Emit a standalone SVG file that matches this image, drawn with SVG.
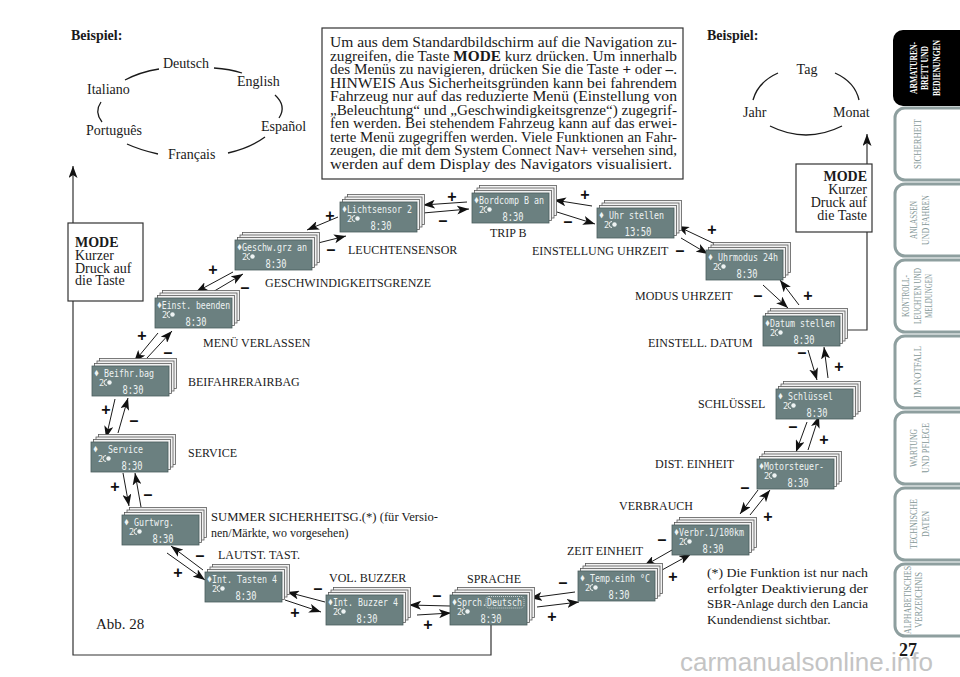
<svg xmlns="http://www.w3.org/2000/svg" xmlns:xlink="http://www.w3.org/1999/xlink" width="960" height="677" viewBox="0 0 960 677">
<style>
.serif{font-family:"Liberation Serif","Times New Roman",serif;fill:#1a1a1a}
.lbl{font-family:"Liberation Serif","Times New Roman",serif;font-size:12px;fill:#1a1a1a}
.lang{font-family:"Liberation Serif","Times New Roman",serif;font-size:14px;fill:#1a1a1a}
.para{font-family:"Liberation Serif","Times New Roman",serif;font-size:14.5px;fill:#1a1a1a}
.pm{font-family:"Liberation Sans",Arial,sans-serif;font-size:16px;font-weight:bold;fill:#111;text-anchor:middle}
.bk{fill:#f2f2f2;stroke:#5a5a5a;stroke-width:0.8}
.lcd{fill:#6b8080;stroke:#4a5c5c;stroke-width:0.8}
.l1{font-family:"DejaVu Sans Mono","Liberation Mono",monospace;font-size:10.5px;fill:#eef3f3;white-space:pre}
.l2{font-family:"DejaVu Sans Mono","Liberation Mono",monospace;font-size:8.5px;fill:#eef3f3}
.l3{font-family:"DejaVu Sans Mono","Liberation Mono",monospace;font-size:12px;fill:#eef3f3;text-anchor:middle}
.cn{fill:none;stroke:#1a1a1a;stroke-width:1;marker-end:url(#ah)}
.arc{fill:none;stroke:#1a1a1a;stroke-width:1.3}
.frame{fill:none;stroke:#333;stroke-width:1.2}
.box{fill:#fff;stroke:#333;stroke-width:1.2}
.tab{fill:#fff;stroke:#8e9f9f;stroke-width:3}
.tt{font-family:"Liberation Serif","Times New Roman",serif;font-size:11px;fill:#869898;text-anchor:middle}
.ttw{font-family:"Liberation Serif","Times New Roman",serif;font-size:11px;font-weight:bold;fill:#fff;text-anchor:middle}
</style>
<defs>
<marker id="ah" markerUnits="userSpaceOnUse" markerWidth="13" markerHeight="9" refX="12" refY="4.5" orient="auto">
<path d="M0,0 L12,4.5 L0,9 L3,4.5 z" fill="#111"/>
</marker>
<g id="card">
<rect class="bk" x="7.5" y="-7.5" width="77" height="30"/>
<rect class="bk" x="5" y="-5" width="77" height="30"/>
<rect class="bk" x="2.5" y="-2.5" width="77" height="30"/>
<rect class="lcd" x="0" y="0" width="77" height="30"/>
<path d="M15,13.5 A3,3 0 0 0 15,19.5" fill="none" stroke="#eef3f3" stroke-width="1"/>
<circle cx="17.5" cy="16.5" r="2.2" fill="#eef3f3"/>
</g>
</defs>
<rect x="0" y="0" width="960" height="677" fill="#fff"/>

<!-- Top-left example -->
<g id="example-lang">
<text class="serif" x="71" y="40" font-size="14" font-weight="bold">Beispiel:</text>
<text class="lang" x="163" y="68">Deutsch</text>
<text class="lang" x="237" y="86">English</text>
<text class="lang" x="87" y="94">Italiano</text>
<text class="lang" x="261" y="131">Español</text>
<text class="lang" x="86" y="135">Português</text>
<text class="lang" x="168" y="159">Français</text>
<path class="arc" d="M125,80 Q140,72 159,69"/>
<path class="arc" d="M214,68 Q230,69 242,73"/>
<path class="arc" d="M275,95 Q287,106 279,118"/>
<path class="arc" d="M265,137 Q250,148 228,153"/>
<path class="arc" d="M158,154 Q140,150 127,144"/>
<path class="arc" d="M101,102 Q94,112 102,122"/>
</g>

<!-- Top-right example -->
<g id="example-date">
<text class="serif" x="707" y="40" font-size="14" font-weight="bold">Beispiel:</text>
<text class="lang" x="807" y="74" text-anchor="middle">Tag</text>
<text class="lang" x="743" y="117">Jahr</text>
<text class="lang" x="833" y="117">Monat</text>
<path class="arc" d="M778,73 Q758,82 753,100"/>
<path class="arc" d="M835,73 Q855,82 859,100"/>
<path class="arc" d="M770,126 Q806,144 842,126"/>
</g>

<!-- Info text box -->
<g id="infobox">
<rect class="box" x="322" y="28" width="361" height="151"/>
<text class="para" x="330" y="47" textLength="347" lengthAdjust="spacingAndGlyphs">Um aus dem Standardbildschirm auf die Navigation zu-</text>
<text class="para" x="330" y="60.5" textLength="347" lengthAdjust="spacingAndGlyphs">zugreifen, die Taste <tspan font-weight="bold">MODE</tspan> kurz drücken. Um innerhalb</text>
<text class="para" x="330" y="74" textLength="347" lengthAdjust="spacingAndGlyphs">des Menüs zu navigieren, drücken Sie die Taste <tspan font-weight="bold">+</tspan> oder <tspan font-weight="bold">–</tspan>.</text>
<text class="para" x="330" y="87.5" textLength="347" lengthAdjust="spacingAndGlyphs">HINWEIS Aus Sicherheitsgründen kann bei fahrendem</text>
<text class="para" x="330" y="101" textLength="347" lengthAdjust="spacingAndGlyphs">Fahrzeug nur auf das reduzierte Menü (Einstellung von</text>
<text class="para" x="330" y="114.5" textLength="347" lengthAdjust="spacingAndGlyphs">„Beleuchtung“ und „Geschwindigkeitsgrenze“) zugegrif-</text>
<text class="para" x="330" y="128" textLength="347" lengthAdjust="spacingAndGlyphs">fen werden. Bei stehendem Fahrzeug kann auf das erwei-</text>
<text class="para" x="330" y="141.5" textLength="347" lengthAdjust="spacingAndGlyphs">terte Menü zugegriffen werden. Viele Funktionen an Fahr-</text>
<text class="para" x="330" y="155" textLength="347" lengthAdjust="spacingAndGlyphs">zeugen, die mit dem System Connect Nav+ versehen sind,</text>
<text class="para" x="330" y="168.5" textLength="342" lengthAdjust="spacingAndGlyphs">werden auf dem Display des Navigators visualisiert.</text>
</g>

<!-- Connectors -->
<g id="connectors">
<path class="frame" d="M491,625 V655 H73 V166" marker-end="url(#ah)"/>
<path class="frame" d="M840,330 H867 V134" marker-end="url(#ah)"/>
<line class="cn" x1="467" y1="202" x2="423" y2="205"/>
<line class="cn" x1="423" y1="213" x2="469" y2="209"/>
<line class="cn" x1="592" y1="206" x2="554" y2="200"/>
<line class="cn" x1="557" y1="212" x2="595" y2="224"/>
<line class="cn" x1="338" y1="217" x2="307" y2="230"/>
<line class="cn" x1="318" y1="243" x2="346" y2="236"/>
<line class="cn" x1="233" y1="272" x2="196" y2="292"/>
<line class="cn" x1="211" y1="293" x2="243" y2="274"/>
<line class="cn" x1="158" y1="333" x2="134" y2="362"/>
<line class="cn" x1="147" y1="358" x2="172" y2="331"/>
<line class="cn" x1="115" y1="399" x2="106" y2="438"/>
<line class="cn" x1="118" y1="433" x2="128" y2="398"/>
<line class="cn" x1="123" y1="473" x2="129" y2="506"/>
<line class="cn" x1="141" y1="507" x2="135" y2="473"/>
<line class="cn" x1="203" y1="570" x2="171" y2="546"/>
<line class="cn" x1="167" y1="553" x2="205" y2="580"/>
<line class="cn" x1="325" y1="602" x2="287" y2="592"/>
<line class="cn" x1="285" y1="600" x2="321" y2="612"/>
<line class="cn" x1="450" y1="606" x2="409" y2="605"/>
<line class="cn" x1="417" y1="615" x2="451" y2="613"/>
<line class="cn" x1="575" y1="592" x2="530" y2="598"/>
<line class="cn" x1="537" y1="607" x2="579" y2="602"/>
<line class="cn" x1="672" y1="550" x2="644" y2="566"/>
<line class="cn" x1="662" y1="570" x2="691" y2="554"/>
<line class="cn" x1="758" y1="490" x2="740" y2="514"/>
<line class="cn" x1="750" y1="515" x2="770" y2="490"/>
<line class="cn" x1="807" y1="422" x2="796" y2="452"/>
<line class="cn" x1="808" y1="450" x2="819" y2="416"/>
<line class="cn" x1="808" y1="350" x2="817" y2="380"/>
<line class="cn" x1="828" y1="378" x2="824" y2="347"/>
<line class="cn" x1="763" y1="285" x2="788" y2="308"/>
<line class="cn" x1="799" y1="305" x2="780" y2="280"/>
<line class="cn" x1="713" y1="243" x2="677" y2="226"/>
<line class="cn" x1="681" y1="238" x2="708" y2="254"/>
<text class="pm" x="452" y="202">+</text><text class="pm" x="443" y="226">–</text>
<text class="pm" x="585" y="200">+</text><text class="pm" x="568" y="227">–</text>
<text class="pm" x="330" y="221">+</text><text class="pm" x="331" y="255">–</text>
<text class="pm" x="213" y="275">+</text><text class="pm" x="245" y="293">–</text>
<text class="pm" x="142" y="341">+</text><text class="pm" x="168" y="358">–</text>
<text class="pm" x="106" y="415">+</text><text class="pm" x="134" y="426">–</text>
<text class="pm" x="115" y="492">+</text><text class="pm" x="148" y="500">–</text>
<text class="pm" x="200" y="561">–</text><text class="pm" x="178" y="578">+</text>
<text class="pm" x="318" y="594">–</text><text class="pm" x="295" y="618">+</text>
<text class="pm" x="437" y="601">–</text><text class="pm" x="428" y="630">+</text>
<text class="pm" x="563" y="588">–</text><text class="pm" x="552" y="622">+</text>
<text class="pm" x="662" y="545">–</text><text class="pm" x="673" y="582">+</text>
<text class="pm" x="745" y="493">–</text><text class="pm" x="768" y="522">+</text>
<text class="pm" x="793" y="432">–</text><text class="pm" x="824" y="445">+</text>
<text class="pm" x="802" y="358">–</text><text class="pm" x="839" y="372">+</text>
<text class="pm" x="758" y="301">–</text><text class="pm" x="808" y="301">+</text>
<text class="pm" x="712" y="235">+</text><text class="pm" x="680" y="256">–</text>
</g>

<!-- MODE boxes -->
<g id="mode-left">
<rect class="box" x="68" y="223" width="75" height="78"/>
<text class="serif" x="75" y="247" font-size="14" font-weight="bold">MODE</text>
<text class="serif" x="75" y="260" font-size="14">Kurzer</text>
<text class="serif" x="75" y="272.5" font-size="14">Druck auf</text>
<text class="serif" x="75" y="285" font-size="14">die Taste</text>
</g>
<g id="mode-right">
<rect class="box" x="796" y="164" width="76" height="68"/>
<text class="serif" x="867" y="181" font-size="14" font-weight="bold" text-anchor="end">MODE</text>
<text class="serif" x="867" y="194" font-size="14" text-anchor="end">Kurzer</text>
<text class="serif" x="867" y="207" font-size="14" text-anchor="end">Druck auf</text>
<text class="serif" x="867" y="219.5" font-size="14" text-anchor="end">die Taste</text>
</g>

<!-- Nodes -->
<g id="n-lichtsensor" transform="translate(340,202)"><use xlink:href="#card"/>
<text class="l1" x="2" y="10.5" textLength="70" lengthAdjust="spacingAndGlyphs">♦Lichtsensor 2</text><text class="l2" x="7" y="19.5">2</text><text class="l3" x="41" y="28" textLength="21" lengthAdjust="spacingAndGlyphs">8:30</text></g>
<g id="n-bordcomp" transform="translate(472,193)"><use xlink:href="#card"/>
<text class="l1" x="2" y="10.5" textLength="70" lengthAdjust="spacingAndGlyphs">♦Bordcomp B an</text><text class="l2" x="7" y="19.5">2</text><text class="l3" x="41" y="28" textLength="21" lengthAdjust="spacingAndGlyphs">8:30</text></g>
<g id="n-uhrstellen" transform="translate(597,208)"><use xlink:href="#card"/>
<text class="l1" x="2" y="10.5" textLength="65" lengthAdjust="spacingAndGlyphs">♦ Uhr stellen</text><text class="l2" x="7" y="19.5">2</text><text class="l3" x="41" y="28" textLength="27" lengthAdjust="spacingAndGlyphs">13:50</text></g>
<g id="n-uhrmodus" transform="translate(706,250)"><use xlink:href="#card"/>
<text class="l1" x="2" y="10.5" textLength="70" lengthAdjust="spacingAndGlyphs">♦ Uhrmodus 24h</text><text class="l2" x="7" y="19.5">2</text><text class="l3" x="41" y="28" textLength="21" lengthAdjust="spacingAndGlyphs">8:30</text></g>
<g id="n-datum" transform="translate(763,316)"><use xlink:href="#card"/>
<text class="l1" x="2" y="10.5" textLength="70" lengthAdjust="spacingAndGlyphs">♦Datum stellen</text><text class="l2" x="7" y="19.5">2</text><text class="l3" x="41" y="28" textLength="21" lengthAdjust="spacingAndGlyphs">8:30</text></g>
<g id="n-schluessel" transform="translate(776,389)"><use xlink:href="#card"/>
<text class="l1" x="2" y="10.5" textLength="55" lengthAdjust="spacingAndGlyphs">♦ Schlüssel</text><text class="l2" x="7" y="19.5">2</text><text class="l3" x="41" y="28" textLength="21" lengthAdjust="spacingAndGlyphs">8:30</text></g>
<g id="n-motor" transform="translate(757,459)"><use xlink:href="#card"/>
<text class="l1" x="2" y="10.5" textLength="65" lengthAdjust="spacingAndGlyphs">♦Motorsteuer-</text><text class="l2" x="7" y="19.5">2</text><text class="l3" x="41" y="28" textLength="21" lengthAdjust="spacingAndGlyphs">8:30</text></g>
<g id="n-verbr" transform="translate(672,525)"><use xlink:href="#card"/>
<text class="l1" x="2" y="10.5" textLength="70" lengthAdjust="spacingAndGlyphs">♦Verbr.1/100km</text><text class="l2" x="7" y="19.5">2</text><text class="l3" x="41" y="28" textLength="21" lengthAdjust="spacingAndGlyphs">8:30</text></g>
<g id="n-temp" transform="translate(578,571)"><use xlink:href="#card"/>
<text class="l1" x="2" y="10.5" textLength="70" lengthAdjust="spacingAndGlyphs">♦ Temp.einh °C</text><text class="l2" x="7" y="19.5">2</text><text class="l3" x="41" y="28" textLength="21" lengthAdjust="spacingAndGlyphs">8:30</text></g>
<g id="n-sprache" transform="translate(450,595)"><use xlink:href="#card"/>
<text class="l1" x="2" y="10.5" textLength="70" lengthAdjust="spacingAndGlyphs">♦Sprch.Deutsch</text><rect x="36" y="1.5" width="38" height="11.5" rx="3" fill="none" stroke="#eef3f3" stroke-width="0.7" stroke-dasharray="1,1"/><text class="l2" x="7" y="19.5">2</text><text class="l3" x="41" y="28" textLength="21" lengthAdjust="spacingAndGlyphs">8:30</text></g>
<g id="n-buzzer" transform="translate(326,595)"><use xlink:href="#card"/>
<text class="l1" x="2" y="10.5" textLength="70" lengthAdjust="spacingAndGlyphs">♦Int. Buzzer 4</text><text class="l2" x="7" y="19.5">2</text><text class="l3" x="41" y="28" textLength="21" lengthAdjust="spacingAndGlyphs">8:30</text></g>
<g id="n-tasten" transform="translate(205,572)"><use xlink:href="#card"/>
<text class="l1" x="2" y="10.5" textLength="70" lengthAdjust="spacingAndGlyphs">♦Int. Tasten 4</text><text class="l2" x="7" y="19.5">2</text><text class="l3" x="41" y="28" textLength="21" lengthAdjust="spacingAndGlyphs">8:30</text></g>
<g id="n-gurt" transform="translate(122,515)"><use xlink:href="#card"/>
<text class="l1" x="2" y="10.5" textLength="50" lengthAdjust="spacingAndGlyphs" xml:space="preserve">♦ Gurtwrg.</text><text class="l2" x="7" y="19.5">2</text><text class="l3" x="41" y="28" textLength="21" lengthAdjust="spacingAndGlyphs">8:30</text></g>
<g id="n-service" transform="translate(91,442)"><use xlink:href="#card"/>
<text class="l1" x="2" y="10.5" textLength="50" lengthAdjust="spacingAndGlyphs" xml:space="preserve">♦  Service</text><text class="l2" x="7" y="19.5">2</text><text class="l3" x="41" y="28" textLength="21" lengthAdjust="spacingAndGlyphs">8:30</text></g>
<g id="n-beifhr" transform="translate(92,366)"><use xlink:href="#card"/>
<text class="l1" x="2" y="10.5" textLength="60" lengthAdjust="spacingAndGlyphs">♦ Beifhr.bag</text><text class="l2" x="7" y="19.5">2</text><text class="l3" x="41" y="28" textLength="21" lengthAdjust="spacingAndGlyphs">8:30</text></g>
<g id="n-einst" transform="translate(155,298)"><use xlink:href="#card"/>
<text class="l1" x="2" y="10.5" textLength="73" lengthAdjust="spacingAndGlyphs">♦Einst. beenden</text><text class="l2" x="7" y="19.5">2</text><text class="l3" x="41" y="28" textLength="21" lengthAdjust="spacingAndGlyphs">8:30</text></g>
<g id="n-geschw" transform="translate(235,240)"><use xlink:href="#card"/>
<text class="l1" x="2" y="10.5" textLength="70" lengthAdjust="spacingAndGlyphs">♦Geschw.grz an</text><text class="l2" x="7" y="19.5">2</text><text class="l3" x="41" y="28" textLength="21" lengthAdjust="spacingAndGlyphs">8:30</text></g>

<!-- Labels -->
<g id="labels">
<text class="lbl" x="348" y="254">LEUCHTENSENSOR</text>
<text class="lbl" x="490" y="237">TRIP B</text>
<text class="lbl" x="532" y="255">EINSTELLUNG UHRZEIT</text>
<text class="lbl" x="265" y="287">GESCHWINDIGKEITSGRENZE</text>
<text class="lbl" x="203" y="347">MENÜ VERLASSEN</text>
<text class="lbl" x="188" y="386">BEIFAHRERAIRBAG</text>
<text class="lbl" x="188" y="457">SERVICE</text>
<text class="lbl" x="211" y="521" textLength="227" lengthAdjust="spacingAndGlyphs">SUMMER SICHERHEITSG.(*) (für Versio-</text>
<text class="lbl" x="211" y="537" font-size="12.5">nen/Märkte, wo vorgesehen)</text>
<text class="lbl" x="218" y="559">LAUTST. TAST.</text>
<text class="lbl" x="329" y="582">VOL. BUZZER</text>
<text class="lbl" x="467" y="583">SPRACHE</text>
<text class="lbl" x="567" y="555">ZEIT EINHEIT</text>
<text class="lbl" x="619" y="510">VERBRAUCH</text>
<text class="lbl" x="655" y="468">DIST. EINHEIT</text>
<text class="lbl" x="698" y="408">SCHLÜSSEL</text>
<text class="lbl" x="648" y="347">EINSTELL. DATUM</text>
<text class="lbl" x="635" y="300">MODUS UHRZEIT</text>
<text class="serif" x="707" y="577" font-size="13.5" textLength="161" lengthAdjust="spacingAndGlyphs">(*) Die Funktion ist nur nach</text>
<text class="serif" x="707" y="593" font-size="13.5" textLength="161" lengthAdjust="spacingAndGlyphs">erfolgter Deaktivierung der</text>
<text class="serif" x="707" y="608" font-size="13.5" textLength="161" lengthAdjust="spacingAndGlyphs">SBR-Anlage durch den Lancia</text>
<text class="serif" x="707" y="624" font-size="13.5">Kundendienst sichtbar.</text>
<text class="serif" x="96" y="629" font-size="15">Abb. 28</text>
</g>

<!-- Side tabs -->
<g id="tabs">
<rect x="893" y="30" width="80" height="76" rx="10" fill="#000"/>
<rect class="tab" x="895" y="108" width="80" height="72" rx="10"/>
<rect class="tab" x="895" y="184" width="80" height="72" rx="10"/>
<rect class="tab" x="895" y="260" width="80" height="72" rx="10"/>
<rect class="tab" x="895" y="336" width="80" height="72" rx="10"/>
<rect class="tab" x="895" y="412" width="80" height="72" rx="10"/>
<rect class="tab" x="895" y="488" width="80" height="72" rx="10"/>
<rect class="tab" x="895" y="564" width="80" height="72" rx="10"/>
<text class="ttw" transform="translate(916.5,68) rotate(-90)" textLength="52" lengthAdjust="spacingAndGlyphs">ARMATUREN-</text>
<text class="ttw" transform="translate(928,68) rotate(-90)" textLength="44" lengthAdjust="spacingAndGlyphs">BRETT UND</text>
<text class="ttw" transform="translate(939.5,68) rotate(-90)" textLength="56" lengthAdjust="spacingAndGlyphs">BEDIENUNGEN</text>
<text class="tt" transform="translate(921,144) rotate(-90)" textLength="50" lengthAdjust="spacingAndGlyphs">SICHERHEIT</text>
<text class="tt" transform="translate(916.5,220) rotate(-90)" textLength="38" lengthAdjust="spacingAndGlyphs">ANLASSEN</text>
<text class="tt" transform="translate(928.5,220) rotate(-90)" textLength="50" lengthAdjust="spacingAndGlyphs">UND FAHREN</text>
<text class="tt" transform="translate(908.5,296) rotate(-90)" textLength="42" lengthAdjust="spacingAndGlyphs">KONTROLL-</text>
<text class="tt" transform="translate(920.5,296) rotate(-90)" textLength="56" lengthAdjust="spacingAndGlyphs">LEUCHTEN UND</text>
<text class="tt" transform="translate(932,296) rotate(-90)" textLength="44" lengthAdjust="spacingAndGlyphs">MELDUNGEN</text>
<text class="tt" transform="translate(921,372) rotate(-90)" textLength="52" lengthAdjust="spacingAndGlyphs">IM NOTFALL</text>
<text class="tt" transform="translate(916.5,448) rotate(-90)" textLength="38" lengthAdjust="spacingAndGlyphs">WARTUNG</text>
<text class="tt" transform="translate(928.5,448) rotate(-90)" textLength="50" lengthAdjust="spacingAndGlyphs">UND PFLEGE</text>
<text class="tt" transform="translate(916.5,524) rotate(-90)" textLength="50" lengthAdjust="spacingAndGlyphs">TECHNISCHE</text>
<text class="tt" transform="translate(928.5,524) rotate(-90)" textLength="26" lengthAdjust="spacingAndGlyphs">DATEN</text>
<text class="tt" transform="translate(910.5,600) rotate(-90)" textLength="68" lengthAdjust="spacingAndGlyphs">ALPHABETISCHES</text>
<text class="tt" transform="translate(922,600) rotate(-90)" textLength="56" lengthAdjust="spacingAndGlyphs">VERZEICHNIS</text>
</g>
<text x="680" y="671" font-family="Liberation Sans, Arial, sans-serif" font-size="26" fill="#c4c4c4">carmanualsonline.info</text>
<text class="serif" x="899" y="656" font-size="18" font-weight="bold">27</text>
</svg>
